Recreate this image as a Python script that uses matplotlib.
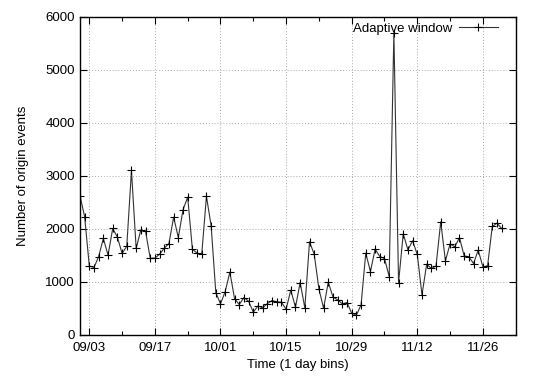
"""Daily count of origin events (adaptive window), gnuplot-like look."""
import datetime as dt

import matplotlib
matplotlib.use("Agg")
import matplotlib.dates as mdates
import matplotlib.pyplot as plt

START_DATE = dt.date(2007, 9, 1)
SERIES_LABEL = "Adaptive window"

# one value per day, starting 09/01
EVENTS = [
    2628, 2232, 1302, 1270, 1478, 1818, 1503, 2006, 1843, 1535,
    1673, 3100, 1629, 1981, 1955, 1447, 1447, 1522, 1635, 1723,
    2220, 1836, 2358, 2597, 1617, 1541, 1522, 2610, 2062, 799,
    585, 817, 1183, 685, 572, 704, 635, 428, 547, 509,
    591, 648, 623, 616, 484, 845, 522, 987, 509, 1755,
    1522, 868, 503, 994, 717, 660, 585, 610, 409, 371,
    566, 1541, 1195, 1617, 1478, 1440, 1100, 5700, 987, 1906,
    1604, 1774, 1516, 755, 1333, 1252, 1302, 2132, 1396, 1717,
    1660, 1836, 1490, 1472, 1346, 1598, 1283, 1302, 2044, 2107,
    2006,
]
Y_TICKS = [0, 1000, 2000, 3000, 4000, 5000, 6000]
FIRST_MAJOR = dt.date(2007, 9, 3)

plt.rcParams["font.family"] = ["Liberation Sans", "DejaVu Sans"]
FS = 9.5

days = [START_DATE + dt.timedelta(days=i) for i in range(len(EVENTS))]

fig = plt.figure(figsize=(5.4, 3.78), dpi=100)
ax = fig.add_axes([0.148, 0.114, 0.807, 0.842])

ax.plot(days, EVENTS, color="#333333", linewidth=0.8, marker="+",
        markersize=6, markeredgewidth=0.8, markeredgecolor="black",
        label=SERIES_LABEL)

ax.set_xlim(START_DATE, START_DATE + dt.timedelta(days=len(EVENTS)))
ax.set_ylim(0, 6000)
ax.set_yticks(Y_TICKS)

# major ticks every two weeks, minor in between
major = [FIRST_MAJOR + dt.timedelta(days=14 * k) for k in range(7)]
minor = [FIRST_MAJOR + dt.timedelta(days=7 + 14 * k) for k in range(7)]
ax.set_xticks(major)
ax.set_xticks(minor, minor=True)
ax.xaxis.set_major_formatter(mdates.DateFormatter("%m/%d"))

ax.tick_params(which="both", direction="in", top=True, right=True,
               labelsize=FS, width=0.8)
ax.tick_params(which="major", length=5)
ax.tick_params(which="minor", length=3)
ax.tick_params(axis="x", pad=5)

ax.grid(True, which="major", color="#aaaaaa", linestyle=(0, (1, 2)), linewidth=0.7)
for spine in ax.spines.values():
    spine.set_linewidth(1.0)

ax.set_xlabel("Time (1 day bins)", fontsize=FS, labelpad=4)
ax.set_ylabel("Number of origin events", fontsize=FS, labelpad=12)

ax.legend(loc="upper right", bbox_to_anchor=(0.966, 0.99), frameon=False,
          fontsize=FS, markerfirst=False, handlelength=3.0,
          borderaxespad=0, borderpad=0.2, handletextpad=0.5)

fig.savefig("out.png", dpi=100)
